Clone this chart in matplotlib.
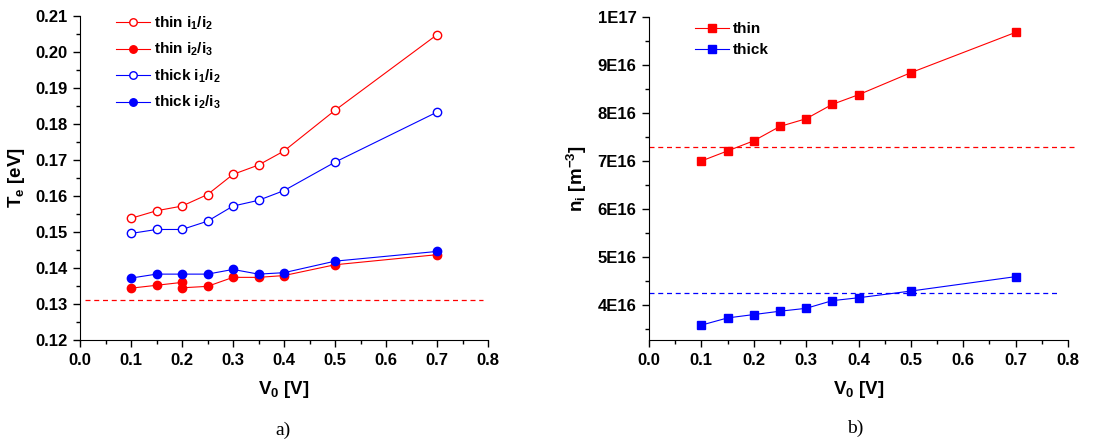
import numpy as np
import matplotlib
matplotlib.use('Agg')
from matplotlib import pyplot as plt
from matplotlib.ticker import MultipleLocator, FixedLocator

plt.rcParams['font.family'] = 'Liberation Sans'
plt.rcParams['font.weight'] = 'bold'
plt.rcParams['axes.labelweight'] = 'bold'
plt.rcParams['mathtext.fontset'] = 'custom'
plt.rcParams['mathtext.bf'] = 'Liberation Sans:bold'
plt.rcParams['mathtext.rm'] = 'Liberation Sans:bold'
plt.rcParams['mathtext.it'] = 'Liberation Sans:bold'
plt.rcParams['mathtext.default'] = 'bf'

RED = '#ff0000'
BLUE = '#0000ff'

# panel a) electron temperature
v0 = [0.1, 0.15, 0.2, 0.25, 0.3, 0.35, 0.4, 0.5, 0.7]
thin_i1i2 = [0.1538, 0.1559, 0.1572, 0.1604, 0.1660, 0.1686, 0.1725, 0.1838, 0.2048]
thick_i1i2 = [0.1496, 0.1507, 0.1507, 0.1530, 0.1572, 0.1588, 0.1615, 0.1694, 0.1833]
thick_i2i3 = [0.1372, 0.1383, 0.1383, 0.1383, 0.1396, 0.1383, 0.1387, 0.1419, 0.1446]
v0_thin23 = [0.1, 0.15, 0.2, 0.2, 0.25, 0.3, 0.35, 0.4, 0.5, 0.7]
thin_i2i3 = [0.1344, 0.1352, 0.1360, 0.1345, 0.1349, 0.1374, 0.1374, 0.1379, 0.1409, 0.1437]
te_ref = 0.1312

# panel b) ion density
thin_n = [7.00e16, 7.21e16, 7.42e16, 7.72e16, 7.88e16, 8.18e16, 8.38e16, 8.84e16, 9.68e16]
thick_n = [3.58e16, 3.73e16, 3.80e16, 3.87e16, 3.93e16, 4.09e16, 4.15e16, 4.29e16, 4.59e16]
thin_ref = 7.30e16
thick_ref = 4.25e16
n_ticks = [4e16, 5e16, 6e16, 7e16, 8e16, 9e16, 1e17]
n_labels = ['4E16', '5E16', '6E16', '7E16', '8E16', '9E16', '1E17']

fig = plt.figure(figsize=(11.06, 4.48), dpi=100)
ax1 = fig.add_axes([80/1106, 108/448, 408/1106, 324/448])
ax2 = fig.add_axes([649/1106, 108/448, 419/1106, 323/448])


def style(ax):
    ax.spines['top'].set_visible(False)
    ax.spines['right'].set_visible(False)
    ax.tick_params(which='major', direction='out', length=5, width=1, labelsize=12, pad=4)
    ax.tick_params(which='minor', direction='out', length=3, width=1)
    ax.set_xlim(0, 0.8)
    ax.xaxis.set_major_locator(MultipleLocator(0.1))
    ax.xaxis.set_minor_locator(MultipleLocator(0.05))
    ax.xaxis.set_major_formatter('{x:.1f}')
    ax.set_xlabel('V$_0$ [V]', fontsize=13.5, labelpad=8)


ms = 6
ax1.plot(v0, thin_i1i2, '-o', color=RED, mfc='white', mec=RED, ms=ms, lw=0.8, label='thin i$_1$/i$_2$')
ax1.plot(v0_thin23, thin_i2i3, '-o', color=RED, ms=ms, lw=0.8, label='thin i$_2$/i$_3$')
ax1.plot(v0, thick_i1i2, '-o', color=BLUE, mfc='white', mec=BLUE, ms=ms, lw=0.8, label='thick i$_1$/i$_2$')
ax1.plot(v0, thick_i2i3, '-o', color=BLUE, ms=ms, lw=0.8, label='thick i$_2$/i$_3$')
ax1.hlines(te_ref, 0.01, 0.79, colors=RED, linestyles=(0, (4, 3)), lw=0.9)
style(ax1)
ax1.set_ylim(0.12, 0.21)
ax1.yaxis.set_major_locator(MultipleLocator(0.01))
ax1.yaxis.set_minor_locator(MultipleLocator(0.005))
ax1.yaxis.set_major_formatter('{x:.2f}')
ax1.set_ylabel('T$_e$ [eV]', fontsize=13.5, labelpad=6)
fig.legend(handles=ax1.get_lines()[:4], loc='upper left', bbox_to_anchor=(116/1106, 0.968),
           frameon=False, fontsize=11, borderpad=0, borderaxespad=0, handlelength=2.2,
           handletextpad=0.3, labelspacing=0.6, markerscale=0.9)

ax2.plot(v0, thin_n, '-s', color=RED, ms=5.5, lw=0.8, label='thin')
ax2.plot(v0, thick_n, '-s', color=BLUE, ms=5.5, lw=0.8, label='thick')
ax2.hlines(thin_ref, 0.0, 0.815, colors=RED, linestyles=(0, (4, 3)), lw=0.9, clip_on=False)
ax2.hlines(thick_ref, 0.0, 0.785, colors=BLUE, linestyles=(0, (4, 3)), lw=0.9, clip_on=False)
style(ax2)
ax2.set_ylim(3.27e16, 1e17)
ax2.yaxis.set_major_locator(FixedLocator(n_ticks))
ax2.set_yticklabels(n_labels)
ax2.yaxis.set_minor_locator(MultipleLocator(0.5e16))
ax2.yaxis.get_offset_text().set_visible(False)
ax2.set_ylabel('n$_i$ [m$^{-3}$]', fontsize=13.5, labelpad=6)
fig.legend(handles=ax2.get_lines()[:2], loc='upper left', bbox_to_anchor=(695/1106, 0.95),
           frameon=False, fontsize=11, borderpad=0, borderaxespad=0, handlelength=2.2,
           handletextpad=0.3, labelspacing=0.45)

fig.text(283/1106, 1 - 430/448, 'a)', family='Liberation Serif', weight='normal', fontsize=14,
         ha='center', va='center')
fig.text(855/1106, 1 - 428/448, 'b)', family='Liberation Serif', weight='normal', fontsize=14,
         ha='center', va='center')

fig.savefig('out.png', dpi=100)
